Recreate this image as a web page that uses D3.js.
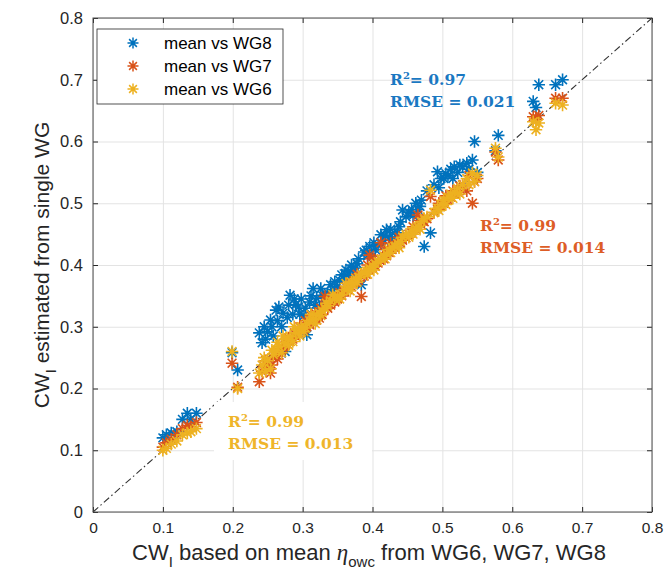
<!DOCTYPE html>
<html>
<head>
<meta charset="utf-8">
<script src="https://cdn.jsdelivr.net/npm/d3@7/dist/d3.min.js"></script>
<style>
  html, body { margin: 0; padding: 0; background: #fff; }
  svg { display: block; }
</style>
</head>
<body>
<svg id="chart" width="664" height="575"></svg>
<script>
// Capture width from the mean free-surface elevation (x) and from each single wave gauge (y)
const meanCW = [
  0.100, 0.105, 0.112, 0.120, 0.128, 0.135, 0.140, 0.148,
  0.199, 0.207,
  0.238, 0.242, 0.245, 0.250, 0.254, 0.258, 0.262, 0.266, 0.270, 0.275,
  0.278, 0.282, 0.286, 0.290, 0.294, 0.298, 0.302, 0.306, 0.310, 0.315,
  0.320, 0.324, 0.328, 0.332, 0.336, 0.340, 0.346, 0.350, 0.356, 0.360,
  0.365, 0.370, 0.372, 0.376, 0.380, 0.384, 0.388, 0.391, 0.396, 0.400,
  0.404, 0.408, 0.412, 0.416, 0.420, 0.424, 0.428, 0.432, 0.436, 0.440,
  0.443, 0.448, 0.452, 0.456, 0.462, 0.465, 0.470, 0.474, 0.478, 0.483,
  0.488, 0.493, 0.498, 0.502, 0.508, 0.512, 0.517, 0.522, 0.529, 0.535,
  0.543, 0.546, 0.550,
  0.576, 0.580,
  0.630, 0.634, 0.638, 0.662, 0.672,
  0.247, 0.256, 0.264, 0.272, 0.280, 0.288, 0.296, 0.304, 0.312, 0.318,
  0.326, 0.334, 0.343, 0.353, 0.362, 0.368, 0.378, 0.393, 0.402, 0.418,
  0.426, 0.438, 0.458, 0.468, 0.495, 0.505, 0.515, 0.525, 0.538
];
const cwWG8 = [
  0.120, 0.125, 0.128, 0.130, 0.150, 0.160, 0.150, 0.160,
  0.258, 0.230,
  0.290, 0.274, 0.300, 0.292, 0.311, 0.285, 0.327, 0.332, 0.300, 0.260,
  0.315, 0.351, 0.320, 0.336, 0.332, 0.345, 0.318, 0.287, 0.340, 0.362,
  0.346, 0.330, 0.351, 0.340, 0.355, 0.368, 0.373, 0.365, 0.384, 0.378,
  0.390, 0.400, 0.392, 0.395, 0.410, 0.368, 0.421, 0.424, 0.430, 0.415,
  0.425, 0.432, 0.449, 0.440, 0.457, 0.445, 0.440, 0.452, 0.452, 0.470,
  0.489, 0.478, 0.485, 0.490, 0.500, 0.490, 0.505, 0.430, 0.520, 0.452,
  0.530, 0.551, 0.540, 0.540, 0.545, 0.555, 0.559, 0.550, 0.559, 0.565,
  0.570, 0.600, 0.550,
  0.585, 0.610,
  0.665, 0.655, 0.692, 0.692, 0.700,
  0.280, 0.300, 0.310, 0.322, 0.335, 0.345, 0.320, 0.330, 0.350, 0.335,
  0.362, 0.348, 0.360, 0.375, 0.392, 0.382, 0.402, 0.415, 0.436, 0.448,
  0.458, 0.462, 0.480, 0.495, 0.525, 0.548, 0.540, 0.562, 0.555
];
const cwWG7 = [
  0.105, 0.112, 0.118, 0.125, 0.135, 0.140, 0.138, 0.145,
  0.241, 0.202,
  0.211, 0.228, 0.235, 0.240, 0.225, 0.250, 0.255, 0.258, 0.262, 0.270,
  0.272, 0.276, 0.280, 0.285, 0.290, 0.292, 0.296, 0.300, 0.303, 0.308,
  0.311, 0.314, 0.320, 0.349, 0.330, 0.335, 0.340, 0.345, 0.350, 0.356,
  0.360, 0.365, 0.370, 0.372, 0.375, 0.349, 0.382, 0.385, 0.416, 0.395,
  0.398, 0.403, 0.436, 0.410, 0.415, 0.420, 0.425, 0.428, 0.432, 0.436,
  0.440, 0.444, 0.450, 0.452, 0.458, 0.481, 0.465, 0.470, 0.475, 0.511,
  0.485, 0.490, 0.495, 0.500, 0.505, 0.510, 0.515, 0.518, 0.530, 0.520,
  0.500, 0.535, 0.540,
  0.583, 0.570,
  0.640, 0.636, 0.642, 0.670, 0.670,
  0.245, 0.238, 0.248, 0.265, 0.282, 0.290, 0.300, 0.310, 0.318, 0.322,
  0.330, 0.340, 0.348, 0.355, 0.365, 0.372, 0.385, 0.400, 0.410, 0.425,
  0.435, 0.445, 0.462, 0.472, 0.500, 0.512, 0.520, 0.528, 0.545
];
const cwWG6 = [
  0.100, 0.103, 0.110, 0.115, 0.125, 0.128, 0.130, 0.135,
  0.260, 0.200,
  0.225, 0.238, 0.250, 0.245, 0.232, 0.255, 0.262, 0.268, 0.258, 0.272,
  0.280, 0.284, 0.276, 0.290, 0.296, 0.300, 0.292, 0.305, 0.310, 0.312,
  0.318, 0.322, 0.326, 0.330, 0.334, 0.342, 0.345, 0.350, 0.352, 0.360,
  0.362, 0.372, 0.368, 0.378, 0.380, 0.385, 0.388, 0.390, 0.395, 0.398,
  0.402, 0.405, 0.410, 0.415, 0.418, 0.425, 0.428, 0.430, 0.435, 0.438,
  0.445, 0.450, 0.445, 0.455, 0.460, 0.462, 0.470, 0.475, 0.478, 0.521,
  0.485, 0.492, 0.498, 0.505, 0.510, 0.515, 0.518, 0.524, 0.530, 0.540,
  0.549, 0.535, 0.545,
  0.589, 0.575,
  0.632, 0.619, 0.630, 0.662, 0.659,
  0.228, 0.262, 0.275, 0.285, 0.270, 0.300, 0.285, 0.298, 0.320, 0.305,
  0.318, 0.338, 0.352, 0.345, 0.370, 0.358, 0.372, 0.385, 0.392, 0.410,
  0.420, 0.428, 0.450, 0.458, 0.488, 0.498, 0.508, 0.515, 0.530
];

const seriesNames = ["mean vs WG8", "mean vs WG7", "mean vs WG6"];
const seriesColors = ["#0072BD", "#D95319", "#EDB120"];
const statsR2 = ["0.97", "0.99", "0.99"];
const statsRMSE = ["0.021", "0.014", "0.013"];
const statsColors = ["#1a78c2", "#dd5d26", "#efb52a"];
const axisTicks = [0, 0.1, 0.2, 0.3, 0.4, 0.5, 0.6, 0.7, 0.8];

const svg = d3.select("#chart");
const plot = { left: 93, right: 652, top: 18, bottom: 512 };
const x = d3.scaleLinear().domain([0, 0.8]).range([plot.left, plot.right]);
const y = d3.scaleLinear().domain([0, 0.8]).range([plot.bottom, plot.top]);
const W = plot.right - plot.left, H = plot.bottom - plot.top;
const axisColor = "#262626";
const fmt = d => (d === 0 ? "0" : d3.format(".1f")(d));

// grid
svg.append("g")
  .attr("transform", `translate(0,${plot.bottom})`)
  .call(d3.axisBottom(x).tickValues(axisTicks).tickSize(-H).tickFormat(""))
  .call(g => g.select(".domain").remove())
  .call(g => g.selectAll("line").attr("stroke", "#e3e3e3").attr("stroke-width", 1));
svg.append("g")
  .attr("transform", `translate(${plot.left},0)`)
  .call(d3.axisLeft(y).tickValues(axisTicks).tickSize(-W).tickFormat(""))
  .call(g => g.select(".domain").remove())
  .call(g => g.selectAll("line").attr("stroke", "#e3e3e3").attr("stroke-width", 1));

// 1:1 reference line
svg.append("line")
  .attr("x1", x(0)).attr("y1", y(0))
  .attr("x2", x(0.8)).attr("y2", y(0.8))
  .attr("stroke", "#333").attr("stroke-width", 1.1)
  .attr("stroke-dasharray", "7,3,1.5,3");

// asterisk marker
function star(r) {
  const d = r * Math.SQRT1_2;
  return `M${-r},0L${r},0M0,${-r}L0,${r}M${-d},${-d}L${d},${d}M${-d},${d}L${d},${-d}`;
}
const markerPath = star(6.2);

const seriesData = [cwWG8, cwWG7, cwWG6];
seriesData.forEach((vals, i) => {
  svg.append("g")
    .selectAll("path")
    .data(meanCW.map((m, k) => [m, vals[k]]))
    .join("path")
    .attr("d", markerPath)
    .attr("transform", d => `translate(${x(d[0])},${y(d[1])})`)
    .attr("fill", "none")
    .attr("stroke", seriesColors[i])
    .attr("stroke-width", 1.6);
});

// axes with inward ticks on all four sides
const tickFont = "'Liberation Sans', Arial, Helvetica, sans-serif";
svg.append("g")
  .attr("transform", `translate(0,${plot.bottom})`)
  .call(d3.axisBottom(x).tickValues(axisTicks).tickSize(-5).tickPadding(10).tickFormat(fmt))
  .call(g => g.select(".domain").remove())
  .call(g => g.selectAll("line").attr("stroke", axisColor))
  .call(g => g.selectAll("text").attr("fill", axisColor).attr("font-size", 15.5).attr("font-family", tickFont));
svg.append("g")
  .attr("transform", `translate(${plot.left},0)`)
  .call(d3.axisLeft(y).tickValues(axisTicks).tickSize(-5).tickPadding(10).tickFormat(fmt))
  .call(g => g.select(".domain").remove())
  .call(g => g.selectAll("line").attr("stroke", axisColor))
  .call(g => g.selectAll("text").attr("fill", axisColor).attr("font-size", 16.5).attr("font-family", tickFont));
svg.append("g")
  .attr("transform", `translate(0,${plot.top})`)
  .call(d3.axisTop(x).tickValues(axisTicks).tickSize(-5).tickFormat(""))
  .call(g => g.select(".domain").remove())
  .call(g => g.selectAll("line").attr("stroke", axisColor));
svg.append("g")
  .attr("transform", `translate(${plot.right},0)`)
  .call(d3.axisRight(y).tickValues(axisTicks).tickSize(-5).tickFormat(""))
  .call(g => g.select(".domain").remove())
  .call(g => g.selectAll("line").attr("stroke", axisColor));

svg.append("rect")
  .attr("x", plot.left).attr("y", plot.top)
  .attr("width", W).attr("height", H)
  .attr("fill", "none").attr("stroke", "#4d4d4d").attr("stroke-width", 1);

// axis labels
const xl = svg.append("text")
  .attr("x", 369).attr("y", 560)
  .attr("text-anchor", "middle")
  .attr("font-family", tickFont).attr("font-size", 22).attr("fill", axisColor);
xl.append("tspan").text("CW");
xl.append("tspan").attr("dy", 7).attr("font-size", 15).text("I");
xl.append("tspan").attr("dy", -7).text(" based on mean ");
xl.append("tspan").attr("font-family", "'Liberation Serif', 'Times New Roman', serif").attr("font-style", "italic").attr("font-size", 23).text("η");
xl.append("tspan").attr("dy", 7).attr("font-size", 15).text("owc");
xl.append("tspan").attr("dy", -7).text(" from WG6, WG7, WG8");

const yl = svg.append("text")
  .attr("transform", `translate(49,${(plot.top + plot.bottom) / 2}) rotate(-90)`)
  .attr("text-anchor", "middle")
  .attr("font-family", tickFont).attr("font-size", 21).attr("fill", axisColor);
yl.append("tspan").text("CW");
yl.append("tspan").attr("dy", 7).attr("font-size", 14.5).text("I");
yl.append("tspan").attr("dy", -7).text(" estimated from single WG");

// legend
const lg = svg.append("g");
lg.append("rect")
  .attr("x", 97).attr("y", 29).attr("width", 186).attr("height", 75)
  .attr("fill", "#fff").attr("stroke", axisColor).attr("stroke-width", 0.8);
seriesNames.forEach((name, i) => {
  const cy = 43 + i * 23;
  lg.append("path").attr("d", star(5.5))
    .attr("transform", `translate(133,${cy})`)
    .attr("fill", "none").attr("stroke", seriesColors[i]).attr("stroke-width", 1.5);
  lg.append("text").attr("x", 164).attr("y", cy + 6)
    .attr("font-family", tickFont).attr("font-size", 17).attr("fill", "#000")
    .text(name);
});

// goodness-of-fit annotations
const statFont = "'DejaVu Serif', 'Liberation Serif', serif";
const statPos = [[390, 85], [480, 231], [228, 427]];
statPos.forEach(([sx, sy], i) => {
  const g = svg.append("g");
  if (i === 2) {
    g.append("rect").attr("x", 214).attr("y", 402).attr("width", 158).attr("height", 58).attr("fill", "#fff");
  }
  const t1 = g.append("text").attr("x", sx).attr("y", sy)
    .attr("font-family", statFont).attr("font-weight", "bold").attr("font-size", 15.5)
    .attr("fill", statsColors[i]);
  t1.append("tspan").text("R");
  t1.append("tspan").attr("dy", -6).attr("font-size", 10).text("2");
  t1.append("tspan").attr("dy", 6).text("= " + statsR2[i]);
  g.append("text").attr("x", sx).attr("y", sy + 22)
    .attr("font-family", statFont).attr("font-weight", "bold").attr("font-size", 15.5)
    .attr("fill", statsColors[i])
    .text("RMSE = " + statsRMSE[i]);
});
</script>
</body>
</html>
